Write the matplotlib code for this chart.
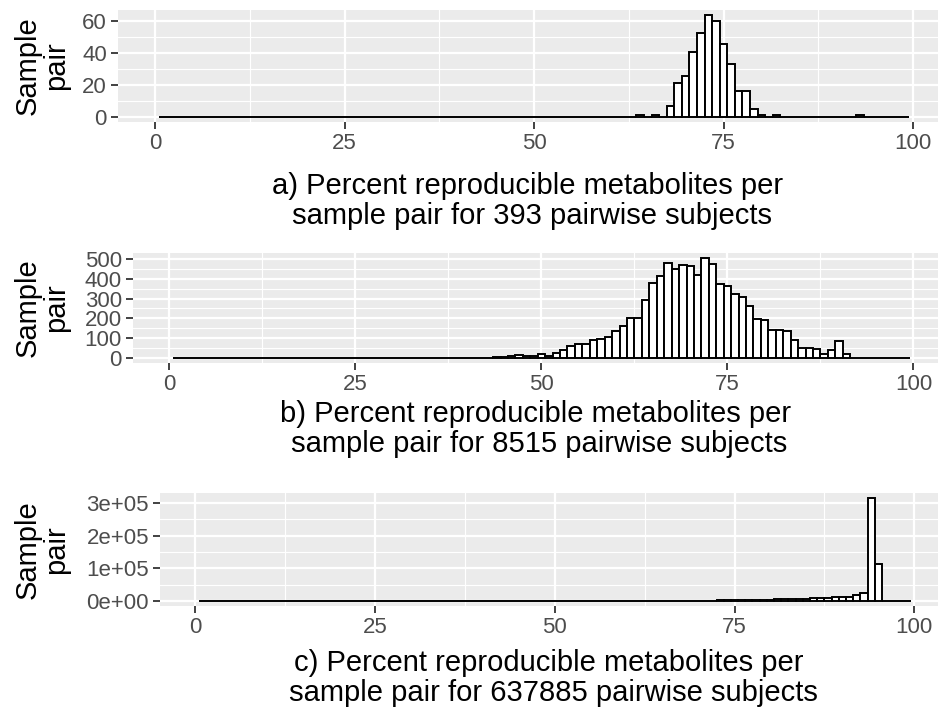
import matplotlib
matplotlib.use('Agg')
import matplotlib.pyplot as plt
import numpy as np
from matplotlib.ticker import FuncFormatter, MultipleLocator

plt.rcParams['font.family'] = ['Liberation Sans', 'DejaVu Sans']

# bin centres (percent), bins of width 1
bins = np.arange(1, 100)

# counts per bin (index 0 -> bin 1)
counts_a = [0] * 63 + [1, 0, 1, 0, 7, 21, 26, 41, 53, 64, 60, 46, 33, 16, 16, 5, 1, 0, 1,
                       0, 0, 0, 0, 0, 0, 0, 0, 0, 0, 1, 0, 0, 0, 0, 0, 0]
counts_b = [0] * 41 + [1, 2, 4, 5, 8, 15, 12, 12, 18, 12,
                       25, 42, 59, 72, 69, 89, 96, 106, 136, 163, 200, 200,
                       294, 377, 414, 482, 448, 468, 465, 421, 505, 474, 374, 364,
                       324, 310, 263, 196, 190, 143, 142, 136, 89, 52, 52, 45, 22, 39, 86, 22,
                       0, 0, 0, 0, 0, 0, 0, 0]
counts_c = [0] * 24 + [3, 4, 5, 6, 8, 10, 12, 14, 17, 20, 24, 28, 33, 38, 44, 50, 57, 64, 72, 80,
                       89, 98, 108, 118, 129, 140, 150, 160, 170, 180, 190, 200, 215, 230, 240,
                       250, 280, 320, 370, 420, 480, 550, 620, 700, 800, 900, 1000, 1100, 1250, 1400,
                       2000, 2300, 2600, 3000, 3400, 3800, 4200, 4700, 5100, 5500,
                       6000, 7500, 8500, 9500, 10500, 11500, 13000, 17000, 25000, 315000, 113500,
                       0, 0, 0, 0]

n_pairs = [393, 8515, 637885]
panel_tags = ['a)', 'b)', 'c)']

W, H = 945, 707
fig = plt.figure(figsize=(W / 100, H / 100), dpi=100)


def px_axes(left, top, right, bottom):
    return fig.add_axes([left / W, 1 - bottom / H, (right - left) / W, (bottom - top) / H])


# panel boxes in pixels: left, top, right, bottom
boxes = [(118, 10, 938, 122), (133, 253, 938, 363), (160, 493, 938, 606)]
ysteps = [20, 100, 1e5]
label_y = [201, 429, 678]

for counts, n, tag, box, ystep, ly in zip([counts_a, counts_b, counts_c], n_pairs, panel_tags,
                                          boxes, ysteps, label_y):
    ax = px_axes(*box)
    ax.set_facecolor('#EBEBEB')
    for s in ax.spines.values():
        s.set_visible(False)
    ax.bar(bins, counts, width=1, color='white', edgecolor='black', linewidth=1.4, zorder=3)

    top = max(counts)
    ax.set_xlim(-4.9, 103.3)
    ax.set_ylim(-0.05 * top, 1.05 * top)
    ax.xaxis.set_major_locator(MultipleLocator(25))
    ax.xaxis.set_minor_locator(MultipleLocator(12.5))
    ax.yaxis.set_major_locator(MultipleLocator(ystep))
    ax.yaxis.set_minor_locator(MultipleLocator(ystep / 2))
    ax.grid(which='major', color='white', linewidth=1.6, zorder=0)
    ax.grid(which='minor', color='white', linewidth=0.8, zorder=0)
    ax.set_axisbelow(True)
    ax.tick_params(which='major', length=5, width=1.3, color='#333333',
                   labelcolor='#4D4D4D', labelsize=16, pad=3)
    ax.tick_params(which='minor', length=0)
    if ystep == 1e5:
        ax.yaxis.set_major_formatter(FuncFormatter(lambda v, p: '%.0e' % v if v != 0 else '0e+00'))

    fig.text(42 / W, 1 - (box[1] + box[3]) / 2 / H, 'Sample\npair', rotation=90,
             ha='center', va='center', multialignment='center', fontsize=21, linespacing=1.0)
    fig.text((box[0] + box[2]) / 2 / W, 1 - ly / H,
             tag + ' Percent reproducible metabolites per\n sample pair for %d pairwise subjects' % n,
             ha='center', va='center', multialignment='center', fontsize=21, linespacing=1.05)

fig.savefig('out.png', dpi=100)
